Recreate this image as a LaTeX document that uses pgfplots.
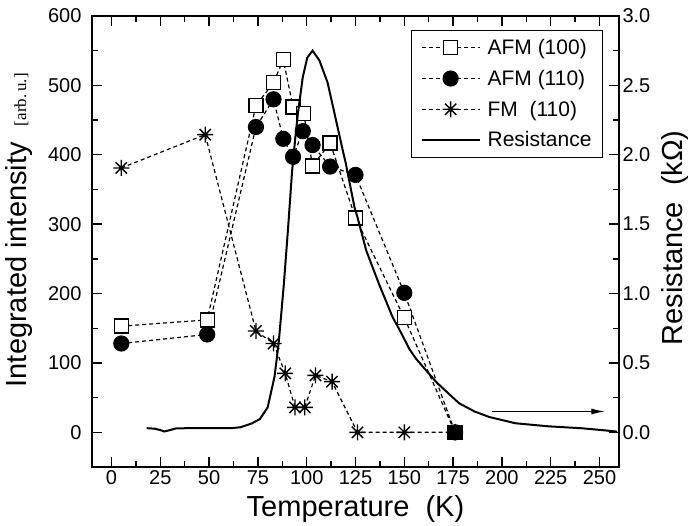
\documentclass[border=0pt]{standalone}
\usepackage{pgfplots}
\pgfplotsset{compat=1.18}
\usepackage{fontspec}
\setmainfont{Liberation Sans}
\newfontfamily\timesfont{Liberation Serif}
\usetikzlibrary{arrows.meta}

% eight-armed asterisk, as in the scan
\pgfdeclareplotmark{star8}{%
  \pgfpathmoveto{\pgfqpoint{-\pgfplotmarksize}{0pt}}%
  \pgfpathlineto{\pgfqpoint{\pgfplotmarksize}{0pt}}%
  \pgfpathmoveto{\pgfqpoint{0pt}{-\pgfplotmarksize}}%
  \pgfpathlineto{\pgfqpoint{0pt}{\pgfplotmarksize}}%
  \pgfpathmoveto{\pgfqpoint{-0.707\pgfplotmarksize}{-0.707\pgfplotmarksize}}%
  \pgfpathlineto{\pgfqpoint{0.707\pgfplotmarksize}{0.707\pgfplotmarksize}}%
  \pgfpathmoveto{\pgfqpoint{-0.707\pgfplotmarksize}{0.707\pgfplotmarksize}}%
  \pgfpathlineto{\pgfqpoint{0.707\pgfplotmarksize}{-0.707\pgfplotmarksize}}%
  \pgfusepathqstroke}

\tikzset{
  dline/.style={black, line width=1.2pt, dash pattern=on 4pt off 3pt},
  sq/.style={dline, mark=square*, mark size=7pt, mark options={solid, fill=white, line width=1.3pt}},
  ci/.style={dline, mark=*, mark size=7.5pt, mark options={solid, fill=black}},
  st/.style={dline, mark=star8, mark size=8pt, mark options={solid, line width=1.4pt}},
  res/.style={black, line width=2pt},
}

\pgfplotsset{
  common/.style={
    scale only axis, width=527pt, height=451pt,
    xmin=-10, xmax=260,
    tick align=inside,
    major tick length=10pt, minor tick length=6pt,
    axis line style={line width=1.5pt},
    every tick/.style={black, line width=1.4pt},
    tick label style={font=\fontsize{20}{24}\selectfont},
    /pgf/number format/assume math mode=true,
  },
}

\begin{document}
\begin{tikzpicture}
\begin{axis}[common, name=ax,
  ymin=-50, ymax=600,
  xtick={0,25,...,250}, ytick={0,100,...,600},
  minor x tick num=1, minor y tick num=1,
  ytick pos=left,
  yticklabel style={xshift=-7pt},
  xlabel={Temperature\ \ (K)},
  xlabel style={font=\fontsize{29}{32}\selectfont, at={(axis description cs:0.5,-0.093)}, anchor=center},
  ylabel={Integrated intensity\ \ {\timesfont\fontsize{17}{19}\selectfont [arb.\,u.]}},
  ylabel style={font=\fontsize{29}{32}\selectfont, at={(axis description cs:-0.139,0.525)}, anchor=center, rotate=0},
]
\addplot[sq] coordinates {(5,153) (49,162) (74,471) (83,504) (88,537) (93,469) (98.5,459) (103,384) (112,417) (125,309) (150,165) (176,0)};
\addplot[ci] coordinates {(5,128) (49,141) (74,440) (83,480) (88,423) (93,397) (98,434) (103,414) (112,383) (125,371) (150,201) (176,0)};
\addplot[st] coordinates {(5,381) (48,429) (74,146) (83,128) (89,85) (94,36) (99,36) (104.5,82) (113,73) (126,0) (150,0) (176,0)};
\addplot[only marks, mark=square*, mark size=7pt, forget plot] coordinates {(176,0)};
\draw[line width=1.3pt, -{Latex[length=14pt, width=6pt]}] (axis cs:195,30) -- (axis cs:253,30);
\end{axis}

\begin{axis}[common,
  ymin=-0.25, ymax=3.0,
  hide x axis, axis y line*=right,
  ytick={0,0.5,...,3.0}, minor y tick num=1,
  yticklabel style={/pgf/number format/.cd, fixed, fixed zerofill, precision=1},
  ylabel={Resistance\ \ (kΩ)},
  ylabel style={font=\fontsize{29}{32}\selectfont, at={(axis description cs:1.106,0.508)}, anchor=center, rotate=0},
  legend style={at={(axis description cs:0.9696,0.969)}, anchor=north east,
    draw=black, line width=1pt, font=\fontsize{21}{25}\selectfont,
    row sep=10pt, inner xsep=9pt, inner ysep=7pt,
    /tikz/every odd column/.append style={column sep=5pt}},
  legend cell align=left,
  legend image code/.code={\draw[mark repeat=2, mark phase=2, #1] plot coordinates {(0pt,0pt) (29pt,0pt) (58pt,0pt)};},
]
\addlegendimage{sq}
\addlegendentry{AFM (100)}
\addlegendimage{ci}
\addlegendentry{AFM (110)}
\addlegendimage{st}
\addlegendentry{FM\ \ (110)}
\addplot[res] coordinates {(18,0.030) (22,0.026) (25,0.016) (27,0.006) (29.5,0.014) (33,0.028) (40,0.030) (50,0.030) (62,0.031) (66,0.036) (69,0.050) (72,0.065) (76,0.095) (80,0.18) (83.5,0.40) (85.6,0.64) (87,0.86) (88.3,1.07) (90.4,1.46) (92.5,1.88) (94,2.10) (95.5,2.30) (98,2.56) (100.3,2.70) (103,2.75) (106.5,2.68) (110.7,2.52) (115,2.25) (118.5,2.03) (120,1.94) (124.5,1.62) (126,1.55) (130.5,1.31) (137,1.07) (144,0.83) (147.5,0.74) (152.6,0.60) (156,0.53) (166.5,0.36) (178,0.21) (186,0.15) (193.6,0.11) (207,0.065) (224,0.043) (241,0.029) (252,0.015) (259,0.005)};
\addlegendentry{Resistance}
\end{axis}

\pgfresetboundingbox
\useasboundingbox ([shift={(-92pt,-59pt)}]ax.south west) rectangle ([shift={(70pt,16pt)}]ax.north east);
\end{tikzpicture}
\end{document}
